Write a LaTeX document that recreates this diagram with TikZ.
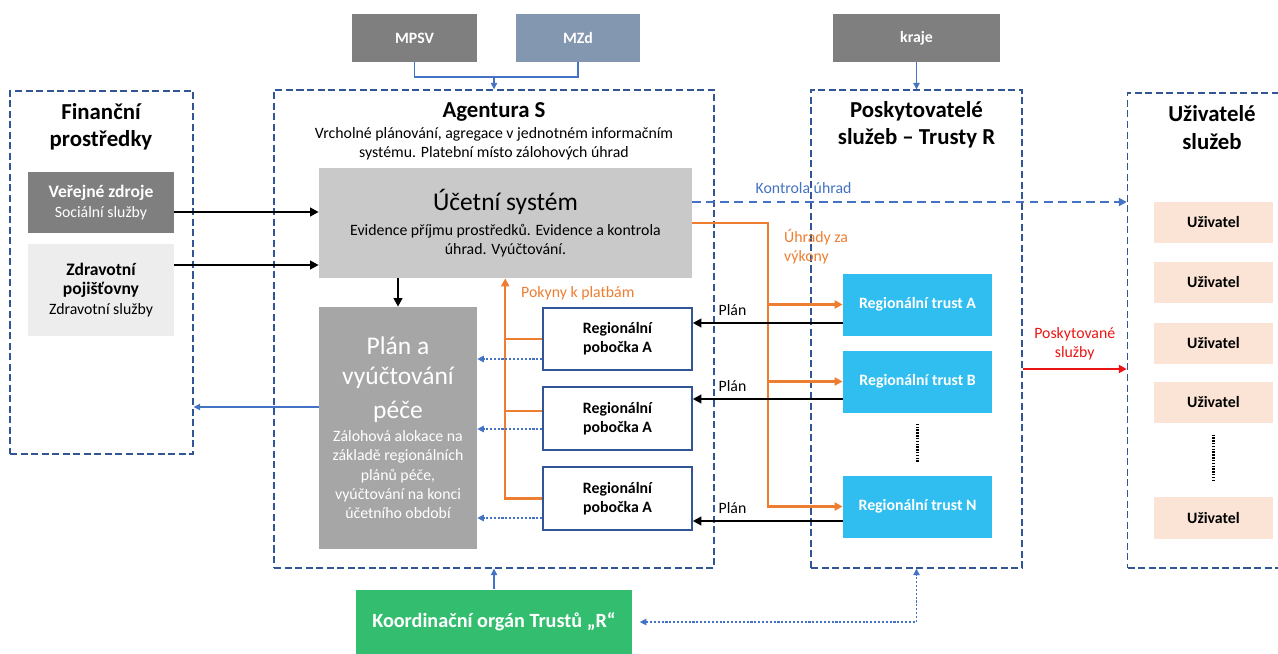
\documentclass[tikz,border=0pt]{standalone}
\usepackage{fontspec}
\setmainfont{Carlito}
\usepackage{tikz}
\usetikzlibrary{positioning,arrows.meta,calc}
\definecolor{frameblue}{RGB}{50,85,150}
\definecolor{linkblue}{RGB}{68,114,196}
\definecolor{darkgrey}{RGB}{127,127,127}
\definecolor{slate}{RGB}{132,151,176}
\definecolor{lightgrey}{RGB}{237,237,237}
\definecolor{accgrey}{RGB}{201,201,201}
\definecolor{plangrey}{RGB}{166,166,166}
\definecolor{trustcyan}{RGB}{48,190,240}
\definecolor{koordgreen}{RGB}{50,190,110}
\definecolor{userpeach}{RGB}{251,228,213}
\definecolor{payorange}{RGB}{237,125,49}
\definecolor{servred}{RGB}{235,20,20}
\newcommand{\srchead}[1]{{\fontsize{10}{12}\selectfont\bfseries #1}}
\tikzset{
  txt/.style={font=\fontsize{9}{11}\selectfont, align=center},
  txtb/.style={font=\fontsize{9}{11}\selectfont\bfseries, align=center},
  ttl/.style={font=\fontsize{13}{15.5}\selectfont\bfseries, align=center},
  zone/.style={draw=frameblue, line width=0.85pt, dash pattern=on 4pt off 2pt, inner sep=0pt},
  ministry/.style={txtb, fill=darkgrey, text=white, minimum width=2.5cm, minimum height=0.96cm},
  srcbox/.style={txt, minimum width=2.92cm, minimum height=1.22cm, inner sep=1pt},
  sysbox/.style={txt, fill=accgrey, minimum width=7.46cm, minimum height=2.2cm},
  planbox/.style={txt, fill=plangrey, text=white, minimum width=3.16cm, minimum height=4.84cm, inner sep=1pt},
  branch/.style={txtb, draw=frameblue, line width=0.9pt, fill=white, minimum width=2.98cm, minimum height=1.25cm},
  trust/.style={txtb, fill=trustcyan, text=white, minimum width=2.98cm, minimum height=1.24cm},
  user/.style={txtb, fill=userpeach, minimum width=2.38cm, minimum height=0.83cm},
  koordbox/.style={fill=koordgreen, text=white, font=\fontsize{11.5}{13.5}\selectfont\bfseries, minimum width=5.52cm, minimum height=1.3cm},
  flow/.style={-{Triangle[length=1.7mm,width=1.7mm]}, line width=1.4pt, black},
  pay/.style={line width=1.3pt, payorange},
  payflow/.style={pay, -{Triangle[length=1.6mm,width=1.6mm]}},
  link/.style={linkblue, line width=0.6pt},
  linkflow/.style={link, -{Triangle[length=1.3mm,width=1.3mm]}},
  dotflow/.style={link, dash pattern=on 1.2pt off 1pt, -{Triangle[length=1.3mm,width=1.3mm]}},
  ctrl/.style={linkblue, line width=1.1pt, dash pattern=on 5pt off 3pt, -{Triangle[length=1.6mm,width=1.6mm]}},
  serv/.style={servred, line width=1.2pt, -{Triangle[length=1.6mm,width=1.6mm]}},
  ellip/.style={line width=1.3pt, dash pattern=on 0.8pt off 0.8pt}
}
\begin{document}
\begin{tikzpicture}[x=0.02cm, y=-0.02cm]
  \path[use as bounding box, clip] (0,0) rectangle (1278,653);
  % zdroje financovani
  \node[ministry] (mpsv) at (414.5,38) {MPSV};
  \node[ministry, fill=slate] (mzd) at (578,38) {MZd};
  \node[ministry, minimum width=3.34cm] (kraje) at (916.5,38) {kraje};
  % ramce
  \node[zone, minimum width=3.66cm, minimum height=7.26cm] (fin) at (101.5,272.5) {};
  \node[zone, minimum width=8.8cm, minimum height=9.56cm] (ag) at (494,329) {};
  \node[zone, minimum width=4.22cm, minimum height=9.56cm] (posk) at (916.5,329) {};
  \node[zone, minimum width=3.3cm, minimum height=9.5cm] (uziv) at (1210,330.5) {};
  \node[ttl] (fint) at (101,126.5) {Finanční\\prostředky};
  \node[ttl] (agt) at (494,112) {Agentura S};
  \node[txt] (ags) at (494,143.5) {Vrcholné plánování, agregace v jednotném informačním\\systému. Platební místo zálohových úhrad};
  \node[ttl] (poskt) at (916.5,124.5) {Poskytovatelé\\služeb – Trusty R};
  \node[ttl] (uzivt) at (1212,127.5) {Uživatelé\\služeb};
  % financni prostredky
  \node[srcbox, fill=darkgrey, text=white] (pub) at (101,202.5) {\srchead{Veřejné zdroje}\\Sociální služby};
  \node[srcbox, fill=lightgrey, minimum height=1.84cm] (ins) at (101,290) {\srchead{Zdravotní}\\\srchead{pojišťovny}\\Zdravotní služby};
  % agentura
  \node[sysbox] (acc) at (505.5,223) {{\fontsize{14.5}{17.8}\selectfont Účetní systém}\\[3pt]Evidence příjmu prostředků. Evidence a kontrola\\úhrad. Vyúčtování.};
  \node[planbox] (plan) at (398,428) {{\fontsize{14.5}{17.8}\selectfont Plán a}\\[6pt]{\fontsize{14.5}{17.8}\selectfont vyúčtování}\\[6pt]{\fontsize{14.5}{17.8}\selectfont péče}\\[2pt]Zálohová alokace na\\základě regionálních\\plánů péče,\\vyúčtování na konci\\účetního období};
  \node[branch] (pob1) at (617.5,339) {Regionální\\pobočka A};
  \node[branch] (pob2) at (617.5,418.5) {Regionální\\pobočka A};
  \node[branch] (pob3) at (617.5,498.5) {Regionální\\pobočka A};
  % trusty
  \node[trust] (trA) at (917.5,304.5) {Regionální trust A};
  \node[trust] (trB) at (917.5,381.5) {Regionální trust B};
  \node[trust] (trN) at (917.5,506.5) {Regionální trust N};
  \draw[ellip] ($(trB.south)+(0,11)$) -- ($(trN.north)+(0,-12)$);
  % uzivatele
  \node[user] (u1) at (1213.5,222.5) {Uživatel};
  \node[user] (u2) at (1213.5,282.5) {Uživatel};
  \node[user] (u3) at (1213.5,343.5) {Uživatel};
  \node[user] (u4) at (1213.5,402.5) {Uživatel};
  \node[user] (u5) at (1213.5,518) {Uživatel};
  \draw[ellip] ($(u4.south)+(0,11)$) -- ($(u5.north)+(0,-15)$);
  \node[koordbox] (koord) at (494,622) {Koordinační orgán Trustů „R“};

  % vazby nahore a dole
  \coordinate (minj) at (494,77);
  \draw[link] (mpsv.south) |- (minj) -| (mzd.south);
  \draw[linkflow] (minj) -- (minj |- ag.north);
  \draw[linkflow] (kraje.south) -- (kraje.south |- posk.north);
  \draw[linkflow] (koord.north) -- (koord.north |- ag.south);
  \draw[dotflow, {Triangle[length=1.3mm,width=1.3mm]}-{Triangle[length=1.3mm,width=1.3mm]}, shorten <=1.5mm] (koord.east) -| (posk.south);

  % toky penez
  \draw[flow] ($(pub.east)+(0,9.5)$) coordinate (p1) -- (p1 -| acc.west);
  \draw[flow] ($(ins.east)+(0,-25)$) coordinate (p2) -- (p2 -| acc.west);
  \draw[flow] (acc.south -| plan.north) -- (plan.north);
  \draw[linkflow] ($(plan.west)+(0,-21)$) coordinate (q1) -- (q1 -| fin.east);

  % pokyny k platbam
  \draw[payflow] (pob3.west) -- ++(-37,0) coordinate (pk) -- (pk |- acc.south);
  \draw[pay] (pob1.west) -- (pob1.west -| pk);
  \draw[pay] ($(pob2.west)+(0,-7.5)$) coordinate (o2) -- (o2 -| pk);
  \node[txt, text=payorange, anchor=west] (pokt) at (515,293) {Pokyny k platbám};
  \draw[dotflow] ($(pob1.west)+(0,20)$) coordinate (d1) -- (d1 -| plan.east);
  \draw[dotflow] ($(pob2.west)+(0,10.5)$) coordinate (d2) -- (d2 -| plan.east);
  \draw[dotflow] ($(pob3.west)+(0,19.5)$) coordinate (d3) -- (d3 -| plan.east);

  % uhrady za vykony
  \draw[payflow] (acc.east) -- ++(76,0) coordinate (ux) |- (trN.west);
  \draw[payflow] (trA.west -| ux) -- (trA.west);
  \draw[payflow] (trB.west -| ux) -- (trB.west);
  \node[txt, text=payorange, align=left, anchor=west] (uht) at (778,247) {Úhrady za\\výkony};

  % plany
  \draw[flow] ($(trA.west)+(0,18.5)$) coordinate (b1) -- (b1 -| pob1.east) node[txt, above, pos=0.735] (pl1) {Plán};
  \draw[flow] ($(trB.west)+(0,17.5)$) coordinate (b2) -- (b2 -| pob2.east) node[txt, above, pos=0.735] (pl2) {Plán};
  \draw[flow] ($(trN.west)+(0,14.5)$) coordinate (b3) -- (b3 -| pob3.east) node[txt, above, pos=0.735] (pl3) {Plán};

  % kontrola a sluzby
  \draw[ctrl] ($(acc.east)+(0,-21)$) coordinate (k0) -- (k0 -| uziv.west) node[txt, text=linkblue, above=1pt, pos=0.256] (kt) {Kontrola úhrad};
  \draw[serv] ($(posk.east)+(0,40)$) coordinate (s0) -- (s0 -| uziv.west) node[txt, text=servred, above=1pt, midway] (st) {Poskytované\\služby};
\end{tikzpicture}
\end{document}
